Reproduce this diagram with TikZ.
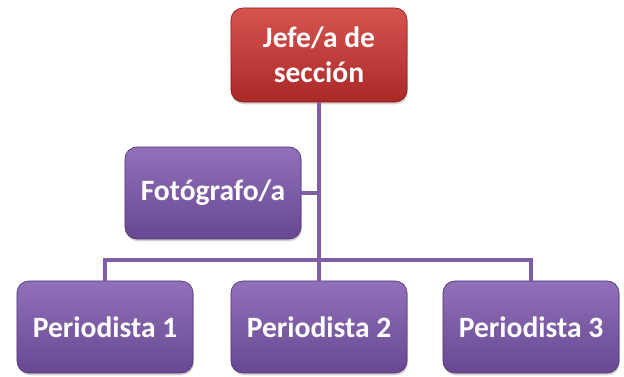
\documentclass[tikz,border=0pt]{standalone}
\usepackage{fontspec}
\setmainfont{Carlito}
\usetikzlibrary{shadows}
\definecolor{jefetop}{RGB}{214,84,80}
\definecolor{jefebot}{RGB}{170,40,38}
\definecolor{jefeline}{RGB}{140,30,30}
\definecolor{lilatop}{RGB}{146,112,186}
\definecolor{lilabot}{RGB}{104,72,146}
\definecolor{lilaline}{RGB}{82,55,118}
\definecolor{linkcol}{RGB}{126,94,166}
\begin{document}
\begin{tikzpicture}[x=0.025cm, y=-0.025cm,
	box/.style={rounded corners=0.3cm, draw=lilaline, line width=0.5pt,
		top color=lilatop, bottom color=lilabot, text=white,
		font=\fontsize{21}{25}\selectfont\bfseries, align=center,
		minimum width=4.4cm, minimum height=2.3cm, inner sep=0pt,
		drop shadow={opacity=0.35, shadow xshift=0.6pt, shadow yshift=-1.6pt}},
	jefebox/.style={box, draw=jefeline, top color=jefetop, bottom color=jefebot},
	link/.style={draw=linkcol, line width=2.6pt}]
	\useasboundingbox (0,0) rectangle (624,376);
	% Define the nodes with specific positions
	\node[jefebox, minimum height=2.35cm] (jefe) at (319, 55) {Jefe/a de\\sección};
	\node[box] (foto) at (213, 193) {Fotógrafo/a};
	\node[box] (p1) at (105, 327) {Periodista 1};
	\node[box] (p2) at (319, 327) {Periodista 2};
	\node[box] (p3) at (531, 327) {Periodista 3};
	\coordinate (bar) at (319, 260);

	% Draw the connectors between nodes
	\draw[link] (p1.north) |- (bar) -| (p3.north);
	\draw[link] (foto.east) -- (foto.east -| bar);
	\draw[link] (jefe.south) -- (p2.north);
\end{tikzpicture}
\end{document}
